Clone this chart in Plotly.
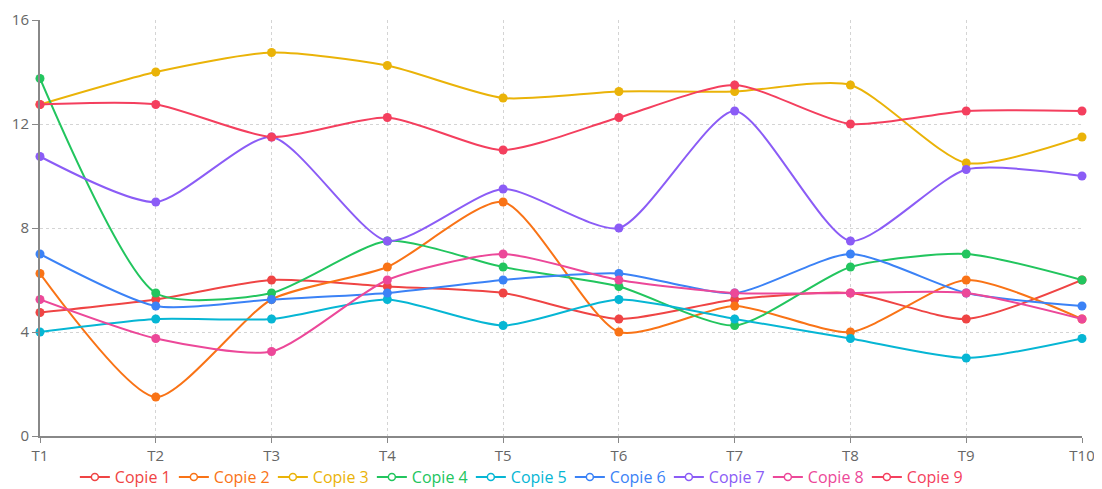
import plotly.graph_objects as go

categories = ["T1", "T2", "T3", "T4", "T5", "T6", "T7", "T8", "T9", "T10"]
series_names = ["Copie 1", "Copie 2", "Copie 3", "Copie 4", "Copie 5",
                "Copie 6", "Copie 7", "Copie 8", "Copie 9"]
copie1 = [4.75, 5.25, 6, 5.75, 5.5, 4.5, 5.25, 5.5, 4.5, 6]
copie2 = [6.25, 1.5, 5.25, 6.5, 9, 4, 5, 4, 6, 4.5]
copie3 = [12.75, 14, 14.75, 14.25, 13, 13.25, 13.25, 13.5, 10.5, 11.5]
copie4 = [13.75, 5.5, 5.5, 7.5, 6.5, 5.75, 4.25, 6.5, 7, 6]
copie5 = [4, 4.5, 4.5, 5.25, 4.25, 5.25, 4.5, 3.75, 3, 3.75]
copie6 = [7, 5, 5.25, 5.5, 6, 6.25, 5.5, 7, 5.5, 5]
copie7 = [10.75, 9, 11.5, 7.5, 9.5, 8, 12.5, 7.5, 10.25, 10]
copie8 = [5.25, 3.75, 3.25, 6, 7, 6, 5.5, 5.5, 5.5, 4.5]
copie9 = [12.75, 12.75, 11.5, 12.25, 11, 12.25, 13.5, 12, 12.5, 12.5]
series_values = [copie1, copie2, copie3, copie4, copie5, copie6, copie7, copie8, copie9]
colors = ["#ef4444", "#f97316", "#eab308", "#22c55e", "#06b6d4",
          "#3b82f6", "#8b5cf6", "#ec4899", "#f43f5e"]
y_ticks = [0, 4, 8, 12, 16]

fig = go.Figure()
for name, vals, col in zip(series_names, series_values, colors):
    fig.add_trace(go.Scatter(
        x=categories, y=vals, mode="lines+markers", name=name,
        line=dict(color=col, width=2, shape="spline", smoothing=0.65),
        marker=dict(color=col, size=9),
        showlegend=False, cliponaxis=False,
    ))
# legend entries (open-circle icon, coloured label)
for name, col in zip(series_names, colors):
    fig.add_trace(go.Scatter(
        x=[None], y=[None], mode="lines+markers",
        name=f"<span style='color:{col}'>{name}</span>",
        line=dict(color=col, width=2),
        marker=dict(color="white", size=7, symbol="circle", line=dict(color=col, width=1.5)),
        showlegend=True,
    ))

# page body has an 8px margin, so the figure is offset by 8px in the window
fig.update_layout(
    width=1102, height=489,
    margin=dict(l=32, r=28, t=12, b=61, autoexpand=False),
    paper_bgcolor="white", plot_bgcolor="white",
    font=dict(family="Open Sans, Noto Sans, sans-serif", size=15, color="#666666"),
    legend=dict(orientation="h", x=0.461, xanchor="center", y=-0.058, yanchor="top",
                font=dict(size=16), itemwidth=30, tracegroupgap=0,
                entrywidth=54, entrywidthmode="pixels",
                bgcolor="rgba(0,0,0,0)"),
    xaxis=dict(
        type="category", range=[0, 9], showgrid=True, gridcolor="#d4d4d4",
        griddash="3px,3px", gridwidth=1, showline=True, linecolor="#888888", linewidth=2,
        ticks="outside", ticklen=5, tickcolor="#888888", zeroline=False, automargin=False,
        tickfont=dict(size=15, color="#666666"),
    ),
    yaxis=dict(
        range=[0, 16], tickvals=y_ticks, showgrid=True, gridcolor="#d4d4d4",
        griddash="3px,3px", gridwidth=1, showline=True, linecolor="#888888", linewidth=2,
        ticks="outside", ticklen=6, tickcolor="#888888", zeroline=False, automargin=False,
        tickfont=dict(size=15, color="#666666"),
    ),
)
fig.write_html("out.html")
